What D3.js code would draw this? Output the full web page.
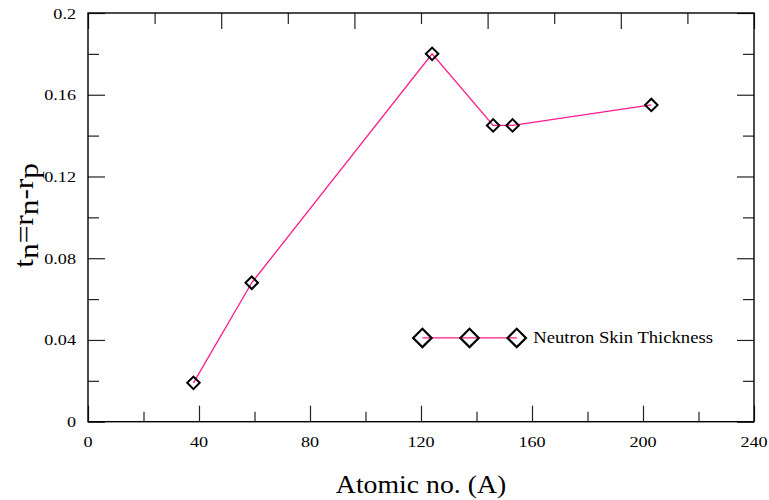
<!DOCTYPE html>
<html>
<head>
<meta charset="utf-8">
<script src="https://cdn.jsdelivr.net/npm/d3@7"></script>
<style>
  html, body { margin: 0; padding: 0; background: #fff; }
  svg { display: block; }
  text { font-family: "Liberation Serif", "Times New Roman", serif; fill: #000; }
</style>
</head>
<body>
<svg id="chart" width="769" height="500"></svg>
<script>
// ---- data ----
const massNumbers = [38, 59, 124, 146, 153, 203];
const skinThickness = [0.019, 0.068, 0.18, 0.145, 0.145, 0.155];
const seriesName = "Neutron Skin Thickness";
const xTickLabels = [0, 40, 80, 120, 160, 200, 240];
const xMinorTicks = [20, 60, 100, 140, 180, 220];
const yTickLabels = [0, 0.04, 0.08, 0.12, 0.16, 0.2];
const yMinorTicks = [0.02, 0.06, 0.1, 0.14, 0.18];
const xTitle = "Atomic no. (A)";

// ---- layout ----
const W = 769, H = 500;
const L = 88, R = 754, T = 13, B = 421.7;
const lineColor = "#ff1a8c";

const svg = d3.select("#chart");
const x = d3.scaleLinear().domain([0, 240]).range([L, R]);
const y = d3.scaleLinear().domain([0, 0.2]).range([B, T]);
const xTop = d3.scaleLinear().domain([0, 10]).range([L, R]);

function styleAxis(g) {
  g.select(".domain").remove();
  g.selectAll(".tick line").attr("stroke", "#222").attr("stroke-width", 1.2);
  g.selectAll(".tick text").remove();
}

// bottom ticks (inward)
svg.append("g").attr("transform", `translate(0,${B})`)
  .call(d3.axisBottom(x).tickValues(xTickLabels).tickSizeInner(-16).tickSizeOuter(0)).call(styleAxis);
svg.append("g").attr("transform", `translate(0,${B})`)
  .call(d3.axisBottom(x).tickValues(xMinorTicks).tickSizeInner(-10).tickSizeOuter(0)).call(styleAxis);
// top ticks
const topMajor = d3.range(0, 11, 2), topMinor = d3.range(1, 10, 2);
svg.append("g").attr("transform", `translate(0,${T})`)
  .call(d3.axisTop(xTop).tickValues(topMajor).tickSizeInner(-16).tickSizeOuter(0)).call(styleAxis);
svg.append("g").attr("transform", `translate(0,${T})`)
  .call(d3.axisTop(xTop).tickValues(topMinor).tickSizeInner(-11).tickSizeOuter(0)).call(styleAxis);
// left ticks
svg.append("g").attr("transform", `translate(${L},0)`)
  .call(d3.axisLeft(y).tickValues(yTickLabels).tickSizeInner(-17).tickSizeOuter(0)).call(styleAxis);
svg.append("g").attr("transform", `translate(${L},0)`)
  .call(d3.axisLeft(y).tickValues(yMinorTicks).tickSizeInner(-11).tickSizeOuter(0)).call(styleAxis);
// right ticks
svg.append("g").attr("transform", `translate(${R},0)`)
  .call(d3.axisRight(y).tickValues(yTickLabels).tickSizeInner(-17).tickSizeOuter(0)).call(styleAxis);
svg.append("g").attr("transform", `translate(${R},0)`)
  .call(d3.axisRight(y).tickValues(yMinorTicks).tickSizeInner(-11).tickSizeOuter(0)).call(styleAxis);

// frame
svg.append("rect").attr("x", L).attr("y", T).attr("width", R - L).attr("height", B - T)
  .attr("fill", "none").attr("stroke", "#000").attr("stroke-width", 1.4);

// tick labels
const yFmt = d => d === 0 ? "0" : String(+d.toFixed(2));
svg.append("g").selectAll("text").data(yTickLabels).join("text")
  .attr("transform", d => `translate(76,${y(d) + 5.5}) scale(1.17,1)`)
  .attr("text-anchor", "end").attr("font-size", 15.5).text(yFmt);
svg.append("g").selectAll("text").data(xTickLabels).join("text")
  .attr("transform", d => `translate(${x(d)},${447}) scale(1.17,1)`)
  .attr("text-anchor", "middle").attr("font-size", 15.5).text(d => d);

// axis titles
svg.append("text")
  .attr("transform", `translate(${(L + R) / 2},493) scale(1.11,1)`)
  .attr("text-anchor", "middle").attr("font-size", 25).text(xTitle);

const yt = svg.append("text")
  .attr("transform", `translate(33,${(T + B) / 2 - 2}) rotate(-90) scale(1.16,1)`)
  .attr("text-anchor", "middle").attr("font-size", 27);
[["t", 0], ["n", 5], ["=", -5], ["r", 0], ["n", 5], ["-", -5], ["r", 0], ["p", 5]].forEach(([s, dy]) => {
  yt.append("tspan").attr("dy", dy).text(s);
});

// data line
const pts = massNumbers.map((a, i) => [a, skinThickness[i]]);
svg.append("path").datum(pts)
  .attr("fill", "none").attr("stroke", lineColor).attr("stroke-width", 1.3)
  .attr("d", d3.line().x(d => x(d[0])).y(d => y(d[1])));

const diamond = d3.symbol().type(d3.symbolSquare);
svg.append("g").selectAll("path").data(pts).join("path")
  .attr("transform", d => `translate(${x(d[0])},${y(d[1])}) rotate(45)`)
  .attr("d", diamond.size(78)())
  .attr("fill", "none").attr("stroke", "#000").attr("stroke-width", 2);

// legend
const legY = y(0.041);
const legXs = [120.5, 137.5, 154.5].map(v => x(v));
svg.append("line").attr("x1", legXs[0]).attr("x2", legXs[2]).attr("y1", legY).attr("y2", legY)
  .attr("stroke", lineColor).attr("stroke-width", 1.3);
svg.append("g").selectAll("path").data(legXs).join("path")
  .attr("transform", d => `translate(${d},${legY}) rotate(45)`)
  .attr("d", diamond.size(170)())
  .attr("fill", "none").attr("stroke", "#000").attr("stroke-width", 2.2);
svg.append("text")
  .attr("transform", `translate(${legXs[2] + 16.5},${legY + 5.5}) scale(1.065,1)`)
  .attr("font-size", 17.5).text(seriesName);
</script>
</body>
</html>
